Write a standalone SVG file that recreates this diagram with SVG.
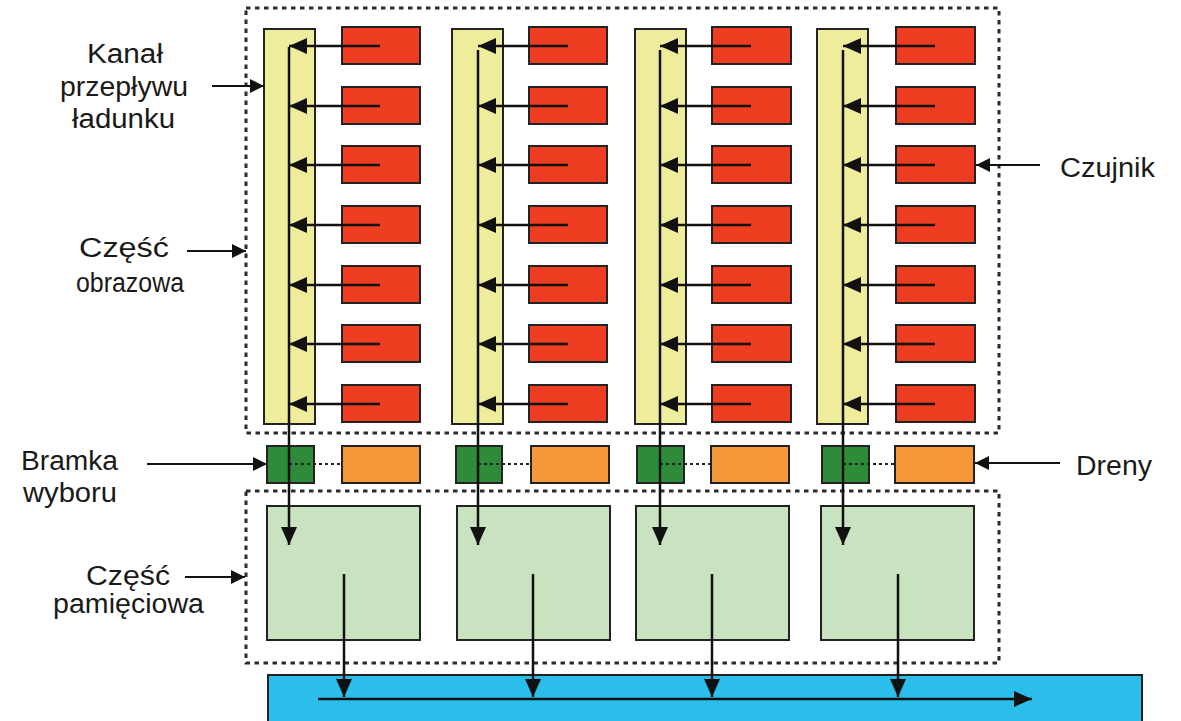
<svg xmlns="http://www.w3.org/2000/svg" width="1181" height="721" viewBox="0 0 1181 721">
<defs>
<style>
.bg{fill:#ffffff}
.zone{fill:none;stroke:#2a2a2a;stroke-width:3;stroke-dasharray:4.5 4.5}
.ch{fill:#EFEC9C;stroke:#222;stroke-width:2}
.sen{fill:#EE3D20;stroke:#222;stroke-width:2}
.gate{fill:#2E8B3A;stroke:#222;stroke-width:2}
.drain{fill:#F5983A;stroke:#222;stroke-width:2}
.mem{fill:#C9E2BF;stroke:#222;stroke-width:2}
.reg{fill:#2BBEEA;stroke:#222;stroke-width:2}
.ln{fill:none;stroke:#111;stroke-width:2.5}
.lbl{fill:none;stroke:#111;stroke-width:2}
.dot{fill:none;stroke:#222;stroke-width:2.2;stroke-dasharray:3 3}
.t{font-family:"Liberation Sans",Arial,sans-serif;font-size:27px;fill:#1a1a1a}
</style>
<marker id="big" markerUnits="userSpaceOnUse" markerWidth="18" markerHeight="16" refX="18" refY="8" orient="auto"><path d="M0,0 L18,8 L0,16 z" fill="#111"/></marker>
<marker id="sm" markerUnits="userSpaceOnUse" markerWidth="14" markerHeight="14" refX="14" refY="7" orient="auto"><path d="M0,0 L14,7 L0,14 z" fill="#111"/></marker>
</defs>
<rect class="bg" x="0" y="0" width="1181" height="721"/>

<g id="zones">
<rect id="image-area" class="zone" x="246" y="8" width="753" height="425"/>
<rect id="memory-area" class="zone" x="246" y="491" width="753" height="172"/>
</g>

<g id="register"><rect class="reg" x="268" y="675" width="874" height="52"/></g>

<g id="col1">
<rect class="ch" x="264" y="29" width="51" height="395"/>
<rect class="sen" x="342" y="27" width="78" height="37"/>
<rect class="sen" x="342" y="87" width="78" height="37"/>
<rect class="sen" x="342" y="146" width="78" height="37"/>
<rect class="sen" x="342" y="206" width="78" height="37"/>
<rect class="sen" x="342" y="266" width="78" height="37"/>
<rect class="sen" x="342" y="325" width="78" height="37"/>
<rect class="sen" x="342" y="385" width="78" height="37"/>
<rect class="gate" x="267" y="446" width="47" height="37"/>
<rect class="drain" x="342" y="446" width="78" height="37"/>
<rect class="mem" x="267" y="506" width="153" height="134"/>
</g>
<g id="col2">
<rect class="ch" x="452" y="29" width="51" height="395"/>
<rect class="sen" x="529" y="27" width="78" height="37"/>
<rect class="sen" x="529" y="87" width="78" height="37"/>
<rect class="sen" x="529" y="146" width="78" height="37"/>
<rect class="sen" x="529" y="206" width="78" height="37"/>
<rect class="sen" x="529" y="266" width="78" height="37"/>
<rect class="sen" x="529" y="325" width="78" height="37"/>
<rect class="sen" x="529" y="385" width="78" height="37"/>
<rect class="gate" x="456" y="446" width="46" height="37"/>
<rect class="drain" x="531" y="446" width="78" height="37"/>
<rect class="mem" x="457" y="506" width="153" height="134"/>
</g>
<g id="col3">
<rect class="ch" x="635" y="29" width="51" height="395"/>
<rect class="sen" x="712" y="27" width="79" height="37"/>
<rect class="sen" x="712" y="87" width="79" height="37"/>
<rect class="sen" x="712" y="146" width="79" height="37"/>
<rect class="sen" x="712" y="206" width="79" height="37"/>
<rect class="sen" x="712" y="266" width="79" height="37"/>
<rect class="sen" x="712" y="325" width="79" height="37"/>
<rect class="sen" x="712" y="385" width="79" height="37"/>
<rect class="gate" x="637" y="446" width="47" height="37"/>
<rect class="drain" x="711" y="446" width="78" height="37"/>
<rect class="mem" x="636" y="506" width="153" height="134"/>
</g>
<g id="col4">
<rect class="ch" x="817" y="29" width="51" height="395"/>
<rect class="sen" x="896" y="27" width="79" height="37"/>
<rect class="sen" x="896" y="87" width="79" height="37"/>
<rect class="sen" x="896" y="146" width="79" height="37"/>
<rect class="sen" x="896" y="206" width="79" height="37"/>
<rect class="sen" x="896" y="266" width="79" height="37"/>
<rect class="sen" x="896" y="325" width="79" height="37"/>
<rect class="sen" x="896" y="385" width="79" height="37"/>
<rect class="gate" x="822" y="446" width="47" height="37"/>
<rect class="drain" x="895" y="446" width="79" height="37"/>
<rect class="mem" x="821" y="506" width="153" height="134"/>
</g>

<g id="connectors">
<path class="dot" d="M289,464 H342 M478,464 H531 M660,464 H711 M843,464 H895"/>
<path class="ln" marker-end="url(#big)" d="M289,47 V545"/>
<path class="ln" marker-end="url(#big)" d="M478,50 V545"/>
<path class="ln" marker-end="url(#big)" d="M660,50 V545"/>
<path class="ln" marker-end="url(#big)" d="M843,50 V545"/>
<g marker-end="url(#big)">
<path class="ln" d="M380,46 H289"/><path class="ln" d="M380,106 H289"/><path class="ln" d="M380,165 H289"/><path class="ln" d="M380,225 H289"/><path class="ln" d="M380,285 H289"/><path class="ln" d="M380,344 H289"/><path class="ln" d="M380,404 H289"/>
<path class="ln" d="M568,46 H478"/><path class="ln" d="M568,106 H478"/><path class="ln" d="M568,165 H478"/><path class="ln" d="M568,225 H478"/><path class="ln" d="M568,285 H478"/><path class="ln" d="M568,344 H478"/><path class="ln" d="M568,404 H478"/>
<path class="ln" d="M751,46 H660"/><path class="ln" d="M751,106 H660"/><path class="ln" d="M751,165 H660"/><path class="ln" d="M751,225 H660"/><path class="ln" d="M751,285 H660"/><path class="ln" d="M751,344 H660"/><path class="ln" d="M751,404 H660"/>
<path class="ln" d="M935,46 H843"/><path class="ln" d="M935,106 H843"/><path class="ln" d="M935,165 H843"/><path class="ln" d="M935,225 H843"/><path class="ln" d="M935,285 H843"/><path class="ln" d="M935,344 H843"/><path class="ln" d="M935,404 H843"/>
<path class="ln" d="M344,574 V697"/><path class="ln" d="M533,574 V697"/><path class="ln" d="M712,574 V697"/><path class="ln" d="M898,574 V697"/>
<path class="ln" d="M318,699 H1032"/>
</g>
<g marker-end="url(#sm)">
<path class="lbl" d="M212,86 H264"/>
<path class="lbl" d="M187,251 H246"/>
<path class="lbl" d="M1040,165 H976"/>
<path class="lbl" d="M147,464 H267"/>
<path class="lbl" d="M185,577 H245"/>
<path class="lbl" d="M1060,463 H975"/>
</g>
</g>

<g id="labels">
<text class="t" x="87" y="63" textLength="76" lengthAdjust="spacingAndGlyphs">Kanał</text>
<text class="t" x="60" y="96" textLength="128" lengthAdjust="spacingAndGlyphs">przepływu</text>
<text class="t" x="72" y="128" textLength="103" lengthAdjust="spacingAndGlyphs">ładunku</text>
<text class="t" x="79" y="257" textLength="90" lengthAdjust="spacingAndGlyphs">Część</text>
<text class="t" x="76" y="292" textLength="108" lengthAdjust="spacingAndGlyphs">obrazowa</text>
<text class="t" x="1060" y="177" textLength="95" lengthAdjust="spacingAndGlyphs">Czujnik</text>
<text class="t" x="21" y="470" textLength="97" lengthAdjust="spacingAndGlyphs">Bramka</text>
<text class="t" x="23" y="502" textLength="94" lengthAdjust="spacingAndGlyphs">wyboru</text>
<text class="t" x="86" y="585" textLength="84" lengthAdjust="spacingAndGlyphs">Część</text>
<text class="t" x="53" y="613" textLength="151" lengthAdjust="spacingAndGlyphs">pamięciowa</text>
<text class="t" x="1076" y="475" textLength="76" lengthAdjust="spacingAndGlyphs">Dreny</text>
</g>
</svg>
